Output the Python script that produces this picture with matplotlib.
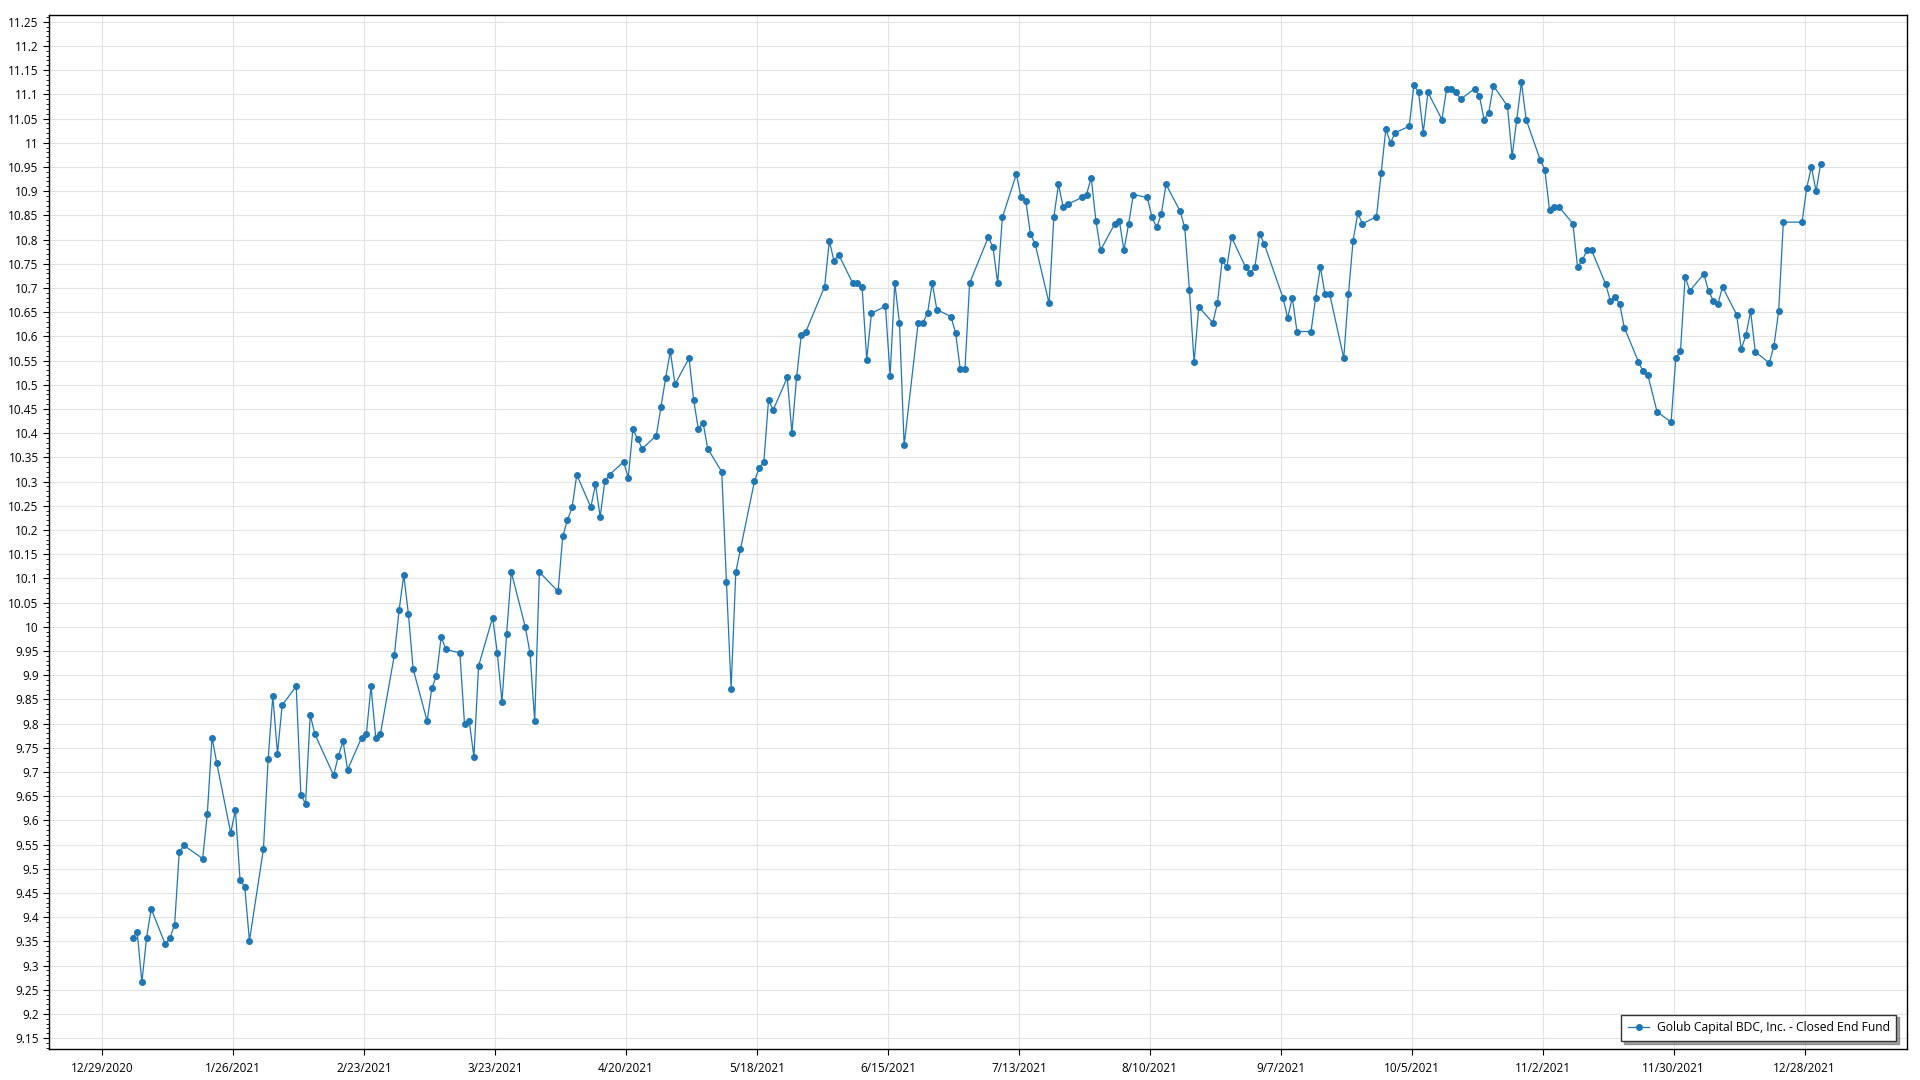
import matplotlib
matplotlib.use("Agg")
import matplotlib.pyplot as plt
from matplotlib.ticker import MultipleLocator, FuncFormatter
import pandas as pd

plt.rcParams['font.family'] = ['Open Sans', 'DejaVu Sans']

# closing prices, one list per month (NYSE trading days of 2021)
jan = [9.357, 9.370, 9.265, 9.357, 9.417, 9.344, 9.357, 9.384, 9.535, 9.548,
       9.521, 9.614, 9.771, 9.719, 9.574, 9.621, 9.476, 9.463, 9.351]
feb = [9.541, 9.726, 9.857, 9.738, 9.838, 9.877, 9.653, 9.634, 9.818, 9.778,
       9.693, 9.732, 9.764, 9.705, 9.771, 9.778, 9.877, 9.771, 9.778]
mar = [9.942, 10.034, 10.107, 10.026, 9.913, 9.805, 9.873, 9.899, 9.979, 9.953,
       9.946, 9.798, 9.805, 9.731, 9.919, 10.019, 9.946, 9.845, 9.986, 10.113,
       9.999, 9.946, 9.805]
apr = [10.113, 10.073, 10.187, 10.220, 10.247, 10.314, 10.247, 10.294, 10.227, 10.301,
       10.314, 10.341, 10.308, 10.408, 10.388, 10.368, 10.395, 10.455, 10.514, 10.569,
       10.501]
may = [10.555, 10.468, 10.408, 10.422, 10.368, 10.320, 10.093, 9.872, 10.113, 10.160,
       10.301, 10.328, 10.341, 10.468, 10.448, 10.515, 10.401, 10.515, 10.603, 10.610]
jun = [10.703, 10.797, 10.756, 10.769, 10.710, 10.710, 10.703, 10.552, 10.648, 10.662,
       10.519, 10.710, 10.628, 10.375, 10.628, 10.628, 10.648, 10.710, 10.655, 10.641,
       10.607, 10.532]
jul = [10.532, 10.710, 10.805, 10.784, 10.710, 10.846, 10.935, 10.887, 10.880, 10.812,
       10.791, 10.668, 10.846, 10.914, 10.867, 10.873, 10.887, 10.893, 10.928, 10.839,
       10.778]
aug = [10.832, 10.839, 10.778, 10.832, 10.893, 10.887, 10.846, 10.825, 10.853, 10.914,
       10.859, 10.825, 10.696, 10.546, 10.661, 10.628, 10.669, 10.757, 10.743, 10.805,
       10.743, 10.730]
sep = [10.743, 10.812, 10.791, 10.680, 10.638, 10.680, 10.610, 10.610, 10.680, 10.743,
       10.687, 10.687, 10.555, 10.687, 10.798, 10.854, 10.833, 10.847, 10.937, 11.028,
       11.000]
oct_ = [11.021, 11.034, 11.119, 11.104, 11.021, 11.104, 11.048, 11.112, 11.112, 11.104,
        11.090, 11.112, 11.097, 11.048, 11.062, 11.118, 11.076, 10.972, 11.048, 11.125,
        11.048]
nov = [10.965, 10.944, 10.861, 10.868, 10.868, 10.833, 10.743, 10.757, 10.778, 10.778,
       10.708, 10.674, 10.681, 10.667, 10.618, 10.548, 10.528, 10.521, 10.444, 10.423,
       10.555]
dec = [10.569, 10.723, 10.694, 10.729, 10.694, 10.674, 10.667, 10.702, 10.645, 10.574,
       10.602, 10.652, 10.568, 10.545, 10.581, 10.652, 10.836, 10.836, 10.907, 10.950,
       10.900, 10.957]

market_holidays = ['2021-01-18', '2021-02-15', '2021-04-02', '2021-05-31',
                   '2021-07-05', '2021-09-06', '2021-11-25', '2021-12-24']
series_name = 'Golub Capital BDC, Inc. - Closed End Fund'

prices = jan + feb + mar + apr + may + jun + jul + aug + sep + oct_ + nov + dec
# timestamps carry a time of day, which shifts the points a bit right of midnight
dates = pd.bdate_range('2021-01-04', '2021-12-31', freq='C', holidays=market_holidays)
dates = dates + pd.Timedelta(hours=11)

fig = plt.figure(figsize=(19.2, 10.8), dpi=100)
ax = fig.add_axes([49 / 1920, 1 - 1049 / 1080, (1907 - 49) / 1920, (1049 - 15) / 1080])

ax.plot(dates, prices, color='#1f77b4', linewidth=0.9, marker='o', markersize=4,
        label=series_name)

# x axis: ticks every 28 days
start = pd.Timestamp('2020-12-29')
xticks = pd.date_range(start, periods=14, freq='28D')
ax.set_xticks(xticks)
ax.set_xticklabels([f"{d.month}/{d.day}/{d.year}" for d in xticks], fontsize=8.5)
ax.set_xlim(start - pd.Timedelta(days=11.4), start + pd.Timedelta(days=385.9))

# y axis
ax.set_ylim(9.1275, 11.264)
ax.yaxis.set_major_locator(MultipleLocator(0.05))
ax.yaxis.set_minor_locator(MultipleLocator(0.01))
ax.yaxis.set_major_formatter(FuncFormatter(lambda v, p: f"{v:.2f}".rstrip('0').rstrip('.')))
ax.tick_params(axis='y', labelsize=8.5, length=4, width=0.8)
ax.tick_params(axis='y', which='minor', length=2, width=0.6)
ax.tick_params(axis='x', length=4, width=0.8, pad=5)

ax.grid(True, which='major', color='#e3e3e3', linewidth=0.8)
ax.set_axisbelow(True)
for s in ax.spines.values():
    s.set_linewidth(1.0)
    s.set_color('black')

leg = ax.legend(loc='lower right', fontsize=8.7, fancybox=False, shadow=True,
                framealpha=1, edgecolor='#333333', borderpad=0.55,
                handlelength=1.8, handletextpad=0.6, bbox_to_anchor=(0.9975, 0.002))
leg.get_frame().set_linewidth(1.0)

fig.savefig('out.png', dpi=100)
